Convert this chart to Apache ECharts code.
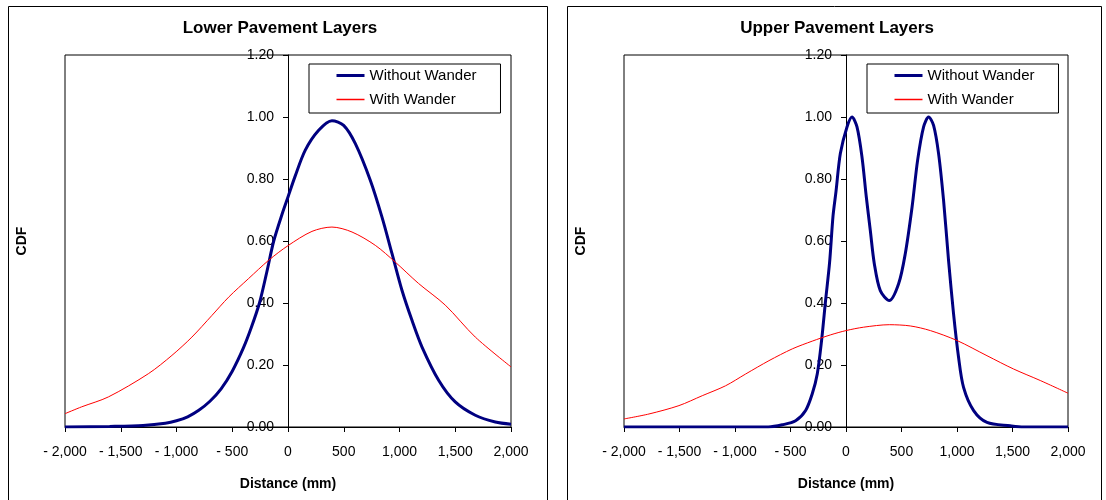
<!DOCTYPE html>
<html>
<head>
<meta charset="utf-8">
<script src="https://cdn.jsdelivr.net/npm/echarts@6/dist/echarts.min.js"></script>
<style>
html, body { margin: 0; padding: 0; background: #fff; }
#main { width: 1106px; height: 500px; }
</style>
</head>
<body>
<div id="main"></div>
<script>
var titles = ["Lower Pavement Layers", "Upper Pavement Layers"];
var seriesNames = ["Without Wander", "With Wander"];

// lower layers, without wander
var lowNoX = [-2000, -1600, -1300, -1100, -1000, -900, -800, -700, -600, -500, -400, -330, -256, -190, -128, -52, 0, 61, 155, 275, 394, 499, 604, 738, 843, 933, 1022, 1112, 1202, 1351, 1500, 1680, 1859, 2000];
var lowNoY = [0.000, 0.002, 0.005, 0.012, 0.020, 0.033, 0.054, 0.083, 0.123, 0.180, 0.255, 0.32, 0.40, 0.50, 0.60, 0.688, 0.742, 0.806, 0.893, 0.957, 0.988, 0.973, 0.914, 0.796, 0.677, 0.559, 0.441, 0.344, 0.258, 0.151, 0.081, 0.038, 0.016, 0.009];
// lower layers, with wander
var lowWX = [-2000, -1851, -1611, -1252, -1041, -862, -682, -532, -353, -173, 0, 215, 394, 574, 783, 962, 1171, 1411, 1680, 2000];
var lowWY = [0.043, 0.065, 0.097, 0.172, 0.231, 0.290, 0.360, 0.419, 0.479, 0.538, 0.585, 0.631, 0.645, 0.629, 0.586, 0.532, 0.463, 0.393, 0.290, 0.194];
// upper layers, without wander
var upNoX = [-2000, -1000, -700, -574, -454, -364, -304, -259, -220, -184, -148, -117, -90, -51, 9, 54, 99, 144, 183, 219, 255, 309, 390, 474, 534, 595, 645, 699, 744, 789, 834, 879, 924, 969, 1014, 1059, 1150, 1270, 1480, 1600, 2000];
var upNoY = [0, 0, 0, 0.007, 0.02, 0.053, 0.107, 0.171, 0.279, 0.408, 0.53, 0.68, 0.76, 0.882, 0.968, 1.0, 0.968, 0.871, 0.742, 0.634, 0.527, 0.440, 0.408, 0.462, 0.559, 0.709, 0.860, 0.968, 1.0, 0.973, 0.882, 0.731, 0.537, 0.365, 0.225, 0.128, 0.053, 0.015, 0.004, 0, 0];
// upper layers, with wander
var upWX = [-2000, -1775, -1505, -1295, -1085, -904, -694, -484, -304, -141, 0, 159, 390, 579, 760, 1000, 1270, 1510, 1750, 2000];
var upWY = [0.026, 0.042, 0.069, 0.101, 0.133, 0.171, 0.214, 0.252, 0.277, 0.297, 0.311, 0.322, 0.330, 0.326, 0.311, 0.279, 0.230, 0.187, 0.150, 0.109];

function zip(xs, ys) {
    return xs.map(function (x, i) { return [x, ys[i]]; });
}

var font = "'Liberation Sans', Arial, sans-serif";

function fmtX(v) {
    var s = Math.abs(v).toLocaleString("en-US");
    return v < 0 ? "- " + s : s;
}

function xAxisFor(i) {
    return {
        type: "value", gridIndex: i, min: -2000, max: 2000, interval: 500,
        name: "Distance (mm)", nameLocation: "middle", nameGap: 50,
        nameTextStyle: {fontFamily: font, fontSize: 14, fontWeight: "bold", color: "#000"},
        axisLine: {show: true, onZero: false, lineStyle: {color: "#000", width: 1}},
        axisTick: {show: true, length: 5, lineStyle: {color: "#000"}},
        axisLabel: {fontFamily: font, fontSize: 14, color: "#000", margin: 18, formatter: fmtX},
        splitLine: {show: false}
    };
}

// y axis sits on x = 0, so shift it into the grid by half its width
function yAxisFor(i, shift) {
    return {
        type: "value", gridIndex: i, min: 0, max: 1.2, interval: 0.2,
        position: "left", offset: -shift,
        axisLine: {show: true, onZero: false, lineStyle: {color: "#000", width: 1}},
        axisTick: {show: true, length: 5, lineStyle: {color: "#000"}},
        axisLabel: {fontFamily: font, fontSize: 14, color: "#000", margin: 14,
            formatter: function (v) { return v.toFixed(2); }},
        splitLine: {show: false}
    };
}

function legendFor(left) {
    return {
        left: left, top: 64, orient: "vertical",
        data: [
            {name: seriesNames[0], lineStyle: {width: 3}},
            {name: seriesNames[1], lineStyle: {width: 1.5}}
        ],
        borderColor: "#000", borderWidth: 1, borderRadius: 0,
        padding: [4, 24, 6, 26], itemGap: 9, itemWidth: 28, itemHeight: 14, itemTextGap: 4,
        itemStyle: {opacity: 0},
        textStyle: {fontFamily: font, fontSize: 15, color: "#000"},
        selectedMode: false
    };
}

function lineSeries(name, i, data, color, width) {
    return {
        name: name, type: "line", xAxisIndex: i, yAxisIndex: i,
        data: data, showSymbol: false, symbol: "none", smooth: 0.3,
        lineStyle: {color: color, width: width}, itemStyle: {color: color},
        animation: false
    };
}

var chart = echarts.init(document.getElementById("main"), null, {renderer: "canvas"});
chart.setOption({
    backgroundColor: "#fff",
    animation: false,
    grid: [
        {left: 65, top: 55, width: 446, height: 372, show: true, borderColor: "#000", borderWidth: 1, outerBoundsMode: "none"},
        {left: 624, top: 55, width: 444, height: 372, show: true, borderColor: "#000", borderWidth: 1, outerBoundsMode: "none"}
    ],
    xAxis: [xAxisFor(0), xAxisFor(1)],
    yAxis: [yAxisFor(0, 223), yAxisFor(1, 222)],
    legend: [legendFor(309), legendFor(867)],
    series: [
        lineSeries(seriesNames[0], 0, zip(lowNoX, lowNoY), "#000080", 3),
        lineSeries(seriesNames[1], 0, zip(lowWX, lowWY), "#ff0000", 1),
        lineSeries(seriesNames[0], 1, zip(upNoX, upNoY), "#000080", 3),
        lineSeries(seriesNames[1], 1, zip(upWX, upWY), "#ff0000", 1)
    ],
    graphic: [
        {type: "rect", shape: {x: 8.5, y: 6.5, width: 539, height: 510}, style: {fill: null, stroke: "#000", lineWidth: 1}, silent: true},
        {type: "rect", shape: {x: 567.5, y: 6.5, width: 534, height: 510}, style: {fill: null, stroke: "#000", lineWidth: 1}, silent: true},
        {type: "text", x: 280, y: 28, style: {text: titles[0], font: "bold 17px " + font, fill: "#000", textAlign: "center", textVerticalAlign: "middle"}},
        {type: "text", x: 837, y: 28, style: {text: titles[1], font: "bold 17px " + font, fill: "#000", textAlign: "center", textVerticalAlign: "middle"}},
        {type: "text", x: 22, y: 241, rotation: Math.PI / 2, style: {text: "CDF", font: "bold 14px " + font, fill: "#000", textAlign: "center", textVerticalAlign: "middle"}},
        {type: "text", x: 581, y: 241, rotation: Math.PI / 2, style: {text: "CDF", font: "bold 14px " + font, fill: "#000", textAlign: "center", textVerticalAlign: "middle"}}
    ]
});
</script>
</body>
</html>
